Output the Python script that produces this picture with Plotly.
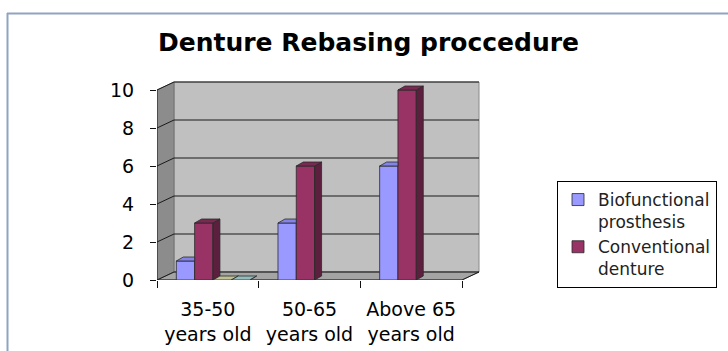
import plotly.graph_objects as go

# ---------------- data ----------------
categories = ["35-50<br>years old", "50-65<br>years old", "Above 65<br>years old"]
series_names = ["Biofunctional<br>prosthesis", "Conventional<br>denture", "Series3", "Series4"]
biofunctional = [1, 3, 6]
conventional = [3, 6, 10]
series3 = [0, None, None]
series4 = [0, None, None]
y_ticks = [0, 2, 4, 6, 8, 10]
y_max = 10

# ---------------- style / layout constants ----------------
W, H = 728, 351
L, T, B = 157, 81, 71           # plot area margins (px)
PLOT_W, PLOT_H = 324, 199
UX = 305 / 3                    # px per category
UY = 19                         # px per y unit
DX, DY = 17 / UX, 8 / UY        # wall depth (data units)
BDX, BDY = 7 / UX, 4 / UY       # bar depth (data units)
x_range = [-0.5, -0.5 + PLOT_W / UX]
y_range = [0, PLOT_H / UY]
n_cat = len(categories)

offsets = [-0.31, -0.13, 0.05, 0.23]
bar_w = 0.18
front_cols = ["#9999FF", "#993366", "#FFFFCC", "#CCFFFF"]
side_cols = ["#6a6ab8", "#5c1f3d", "#a8a884", "#84a8a8"]
top_cols = ["#8484e8", "#7a2952", "#c0c094", "#94bcbc"]
edge = "#2a2a2a"
FONT = "DejaVu Sans"

all_series = [biofunctional, conventional, series3, series4]
show_leg = [True, True, False, False]

fig = go.Figure()

# front faces (real bars)
for j, vals in enumerate(all_series):
    fig.add_trace(go.Bar(
        x=list(range(n_cat)), y=vals, name=series_names[j],
        offset=offsets[j], width=bar_w,
        marker=dict(color=front_cols[j], line=dict(color=edge, width=0.8)),
        showlegend=show_leg[j], hoverinfo="skip",
    ))

# 3D side / top faces computed from the same values
for j, vals in enumerate(all_series):
    nxt = all_series[j + 1] if j + 1 < len(all_series) else [None] * n_cat
    sx, sy, tx, ty = [], [], [], []
    for i, v in enumerate(vals):
        if v is None:
            continue
        xl = i + offsets[j]
        xr = xl + bar_w
        nv = nxt[i]
        hidden = nv is not None and nv >= v + BDY
        if not hidden:
            sx += [xr, xr, xr + BDX, xr + BDX, xr, None]
            sy += [0, v, v + BDY, BDY, 0, None]
            tx += [xl, xr, xr + BDX, xl + BDX, xl, None]
            ty += [v, v, v + BDY, v + BDY, v, None]
        else:
            tx += [xl, xr, xr, xl + BDX, xl, None]
            ty += [v, v, v + BDY, v + BDY, v, None]
    if sx:
        fig.add_trace(go.Scatter(x=sx, y=sy, mode="lines", fill="toself",
                                 fillcolor=side_cols[j], line=dict(color=edge, width=0.8),
                                 showlegend=False, hoverinfo="skip"))
    if tx:
        fig.add_trace(go.Scatter(x=tx, y=ty, mode="lines", fill="toself",
                                 fillcolor=top_cols[j], line=dict(color=edge, width=0.8),
                                 showlegend=False, hoverinfo="skip"))

# ---------------- walls, floor, gridlines ----------------
x0, x1 = -0.5, n_cat - 0.5
shapes = []
# back wall
shapes.append(dict(type="rect", xref="x", yref="y", x0=x0 + DX, x1=x1 + DX, y0=DY, y1=y_max + DY,
                   fillcolor="#C0C0C0", line=dict(color="#8a8a8a", width=1), layer="below"))
# side wall
shapes.append(dict(type="path", xref="x", yref="y",
                   path=f"M {x0},0 L {x0},{y_max} L {x0+DX},{y_max+DY} L {x0+DX},{DY} Z",
                   fillcolor="#8c8c8c", line=dict(color="#6a6a6a", width=0.8), layer="below"))
# floor
shapes.append(dict(type="path", xref="x", yref="y",
                   path=f"M {x0},0 L {x1},0 L {x1+DX},{DY} L {x0+DX},{DY} Z",
                   fillcolor="#A4A4A4", line=dict(color="#6a6a6a", width=0.8), layer="below"))
for v in y_ticks:
    shapes.append(dict(type="line", xref="x", yref="y", x0=x0 + DX, x1=x1 + DX, y0=v + DY, y1=v + DY,
                       line=dict(color="#1a1a1a", width=1), layer="below"))
    shapes.append(dict(type="line", xref="x", yref="y", x0=x0, x1=x0 + DX, y0=v, y1=v + DY,
                       line=dict(color="#1a1a1a", width=1), layer="below"))
# front axis lines
shapes.append(dict(type="line", xref="x", yref="y", x0=x0, x1=x0, y0=0, y1=y_max,
                   line=dict(color="#1a1a1a", width=1), layer="below"))
shapes.append(dict(type="line", xref="x", yref="y", x0=x0, x1=x1, y0=0, y1=0,
                   line=dict(color="#1a1a1a", width=1), layer="below"))
shapes.append(dict(type="line", xref="x", yref="y", x0=x1, x1=x1 + DX, y0=0, y1=DY,
                   line=dict(color="#1a1a1a", width=1), layer="below"))

# page frame (blue-gray border lines)
def px_x(p):
    return (p - L) / PLOT_W

def px_y(p):
    return (H - B - p) / PLOT_H

frame_col = "#8FA3C2"
shapes.append(dict(type="line", xref="paper", yref="paper", x0=px_x(7), x1=px_x(728),
                   y0=px_y(13.5), y1=px_y(13.5), line=dict(color=frame_col, width=2)))
shapes.append(dict(type="line", xref="paper", yref="paper", x0=px_x(7.5), x1=px_x(7.5),
                   y0=px_y(13), y1=px_y(351), line=dict(color=frame_col, width=2)))

fig.update_layout(
    width=W, height=H,
    margin=dict(l=L, r=W - L - PLOT_W, t=T, b=B, pad=0, autoexpand=False),
    paper_bgcolor="white", plot_bgcolor="rgba(0,0,0,0)",
    barmode="overlay",
    shapes=shapes,
    font=dict(family=FONT, color="black"),
    title=dict(text="<b>Denture Rebasing proccedure</b>", font=dict(family=FONT, size=25, color="black"),
               x=368.5 / W, xref="container", xanchor="center",
               y=1 - 42 / H, yref="container", yanchor="middle"),
    xaxis=dict(range=x_range, showgrid=False, zeroline=False, showline=False, automargin=False,
               tickmode="array", tickvals=list(range(n_cat)), ticktext=categories,
               ticks="outside", ticklen=6, tickcolor="rgba(0,0,0,0)",
               ticklabelstandoff=6,
               tickfont=dict(family=FONT, size=19, color="black"),
               minor=dict(tickmode="array", tickvals=[k - 0.5 for k in range(n_cat + 1)],
                          ticks="outside", ticklen=7, tickcolor="#111", tickwidth=1)),
    yaxis=dict(range=y_range, showgrid=False, zeroline=False, showline=False, automargin=False,
               tickmode="array", tickvals=y_ticks,
               ticks="outside", ticklen=6, tickcolor="#111",
               ticklabelstandoff=12,
               tickfont=dict(family=FONT, size=19, color="black")),
    legend=dict(x=px_x(557), y=px_y(181), xanchor="left", yanchor="top",
                bgcolor="white", bordercolor="black", borderwidth=1,
                font=dict(family=FONT, size=17, color="#222"),
                valign="top", itemwidth=30, tracegroupgap=0, traceorder="normal"),
)

fig.write_html("out.html")
